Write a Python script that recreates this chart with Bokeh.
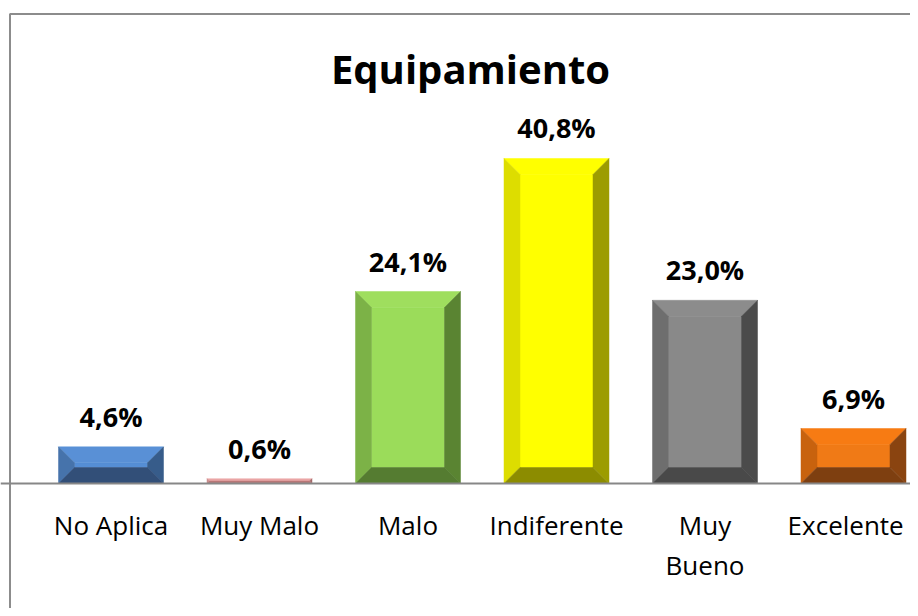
from bokeh.plotting import figure
from bokeh.models import Range1d, Span
from bokeh.embed import file_html
from bokeh.resources import INLINE
from bokeh.core.properties import value

# ---- data ----
title_text = "Equipamiento"
categories = ["No Aplica", "Muy Malo", "Malo", "Indiferente", "Muy\nBueno", "Excelente"]
values = [4.6, 0.6, 24.1, 40.8, 23.0, 6.9]
value_labels = ["4,6%", "0,6%", "24,1%", "40,8%", "23,0%", "6,9%"]

# colours: face, top bevel, left bevel, right bevel, bottom bevel
face_colors = ["#558ED5", "#E6A0A0", "#9BDC5A", "#FFFF00", "#898989", "#F07A16"]
top_colors = ["#5990D6", "#EAA6A6", "#9FDE5E", "#FFFF00", "#8C8C8C", "#F77B13"]
left_colors = ["#4673AB", "#C98C8C", "#7CB247", "#DDDD00", "#6E6E6E", "#C8620E"]
right_colors = ["#375C8A", "#A06868", "#5A8432", "#9C9C00", "#4B4B4B", "#8A4410"]
bottom_colors = ["#324F78", "#B87878", "#557C31", "#8C8C00", "#494949", "#7E3F10"]

# ---- layout (pixels) ----
W, H = 910, 608
PX_PER_X = 148.5
PX_PER_Y = 7.966
X0_PX = 110.5
Y0_PX = 483.0
BAR_W_PX = 105.0
BEVEL_PX = 16.0
CAT_FONT_PX = 26

x_start = -X0_PX / PX_PER_X
x_end = x_start + W / PX_PER_X
y_end = Y0_PX / PX_PER_Y
y_start = y_end - H / PX_PER_Y


def fx(px):
    return x_start + px / PX_PER_X


def fy(py):
    return y_end - py / PX_PER_Y


p = figure(width=W, height=H, x_range=Range1d(x_start, x_end),
           y_range=Range1d(y_start, y_end), output_backend="svg",
           toolbar_location=None, min_border=0,
           x_axis_location=None, y_axis_location=None)
p.grid.visible = False
p.outline_line_color = None
p.background_fill_color = "white"

# frame border (left and top; right/bottom are off-window)
p.line([fx(9.5), fx(9.5), fx(W + 10)], [fy(H + 10), fy(13.5), fy(13.5)],
       line_color="#8C8C8C", line_width=2)

# bevelled bars
xs, ys, cols = [], [], []
hw = BAR_W_PX / 2 / PX_PER_X
for i, v in enumerate(values):
    h_px = v * PX_PER_Y
    b_px = min(BEVEL_PX, h_px / 2)
    bx = b_px / PX_PER_X
    by = b_px / PX_PER_Y
    l, r, b, t = i - hw, i + hw, 0.0, v
    il, ir, ib, it = l + bx, r - bx, b + by, t - by
    # face
    xs.append([il, ir, ir, il]); ys.append([ib, ib, it, it]); cols.append(face_colors[i])
    # top
    xs.append([l, r, ir, il]); ys.append([t, t, it, it]); cols.append(top_colors[i])
    # left
    xs.append([l, il, il, l]); ys.append([b, ib, it, t]); cols.append(left_colors[i])
    # right
    xs.append([r, ir, ir, r]); ys.append([b, ib, it, t]); cols.append(right_colors[i])
    # bottom
    xs.append([l, r, ir, il]); ys.append([b, b, ib, ib]); cols.append(bottom_colors[i])

p.patches(xs, ys, fill_color=cols, line_color=cols, line_width=0.5)

# baseline axis
p.add_layout(Span(location=0, dimension="width", line_color="#878787", line_width=2))

# value labels
p.text(x=list(range(len(values))), y=values, text=value_labels,
       text_font=value("Open Sans"), text_font_style="bold", text_font_size="27px",
       text_align="center", text_baseline="bottom", y_offset=-12, text_color="black")

# category labels (split into lines); keep the last one inside the canvas
lx, ly, lt, loff, lxoff = [], [], [], [], []
for i, c in enumerate(categories):
    for k, line in enumerate(c.split("\n")):
        lx.append(i); ly.append(0.0); lt.append(line); loff.append(41 + 40 * k)
        right_px = X0_PX + i * PX_PER_X + 0.5 * len(line) * CAT_FONT_PX * 0.52
        lxoff.append(min(0.0, (W - 4) - right_px))
p.text(x=lx, y=ly, text=lt, y_offset=loff, x_offset=lxoff,
       text_font=value("Open Sans"), text_font_size=f"{CAT_FONT_PX}px",
       text_align="center", text_baseline="middle", text_color="black")

# title
p.text(x=[fx(470)], y=[fy(68)], text=[title_text],
       text_font=value("Open Sans"), text_font_style="bold", text_font_size="40px",
       text_align="center", text_baseline="middle", text_color="black")

open("out.html", "w").write(file_html(p, INLINE))
